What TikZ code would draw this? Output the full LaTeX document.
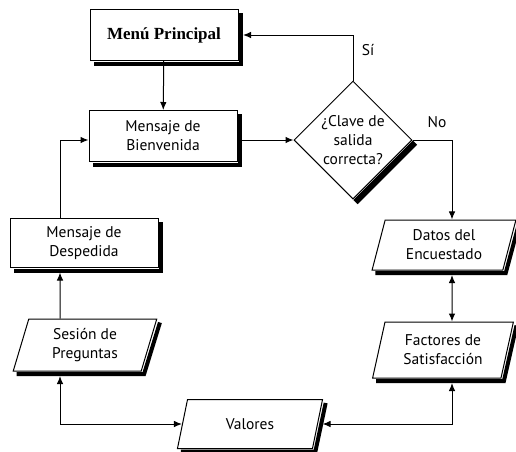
\documentclass[tikz,border=0pt]{standalone}
\usepackage{fontspec}
\setmainfont{PT Sans}
\newfontfamily\menufont{Liberation Serif}
\usetikzlibrary{shapes.geometric, arrows.meta}
\tikzstyle{proc} = [rectangle, minimum width=148pt, minimum height=51pt, align=center, draw=black, line width=1pt, fill=white]
\tikzstyle{io} = [trapezium, trapezium left angle=76, trapezium right angle=104, trapezium stretches=true, minimum width=144pt, minimum height=50pt, align=center, draw=black, line width=1pt, fill=white]
\tikzstyle{decision} = [diamond, aspect=1, minimum width=118pt, minimum height=118pt, inner sep=-3pt, align=center, draw=black, line width=1pt, fill=white]
\tikzstyle{shadowline} = [line width=4pt, black]
\tikzstyle{arrow} = [line width=1pt,->,>={Latex[length=8pt,width=6.5pt]}]
\tikzstyle{darrow} = [line width=1pt,<->,>={Latex[length=8pt,width=6.5pt]}]

\begin{document}
\begin{tikzpicture}[x=1pt,y=-1pt,font=\fontsize{15.5}{19}\selectfont]
\useasboundingbox (0,0) rectangle (516,451);
\node[proc,font=\menufont\bfseries\fontsize{17}{19}\selectfont] (menu) at (164,35) {Menú Principal};
\node[proc] (bien) at (163,136) {Mensaje de\\Bienvenida};
\node[decision] (dia) at (353,140) {¿Clave de\\salida\\correcta?};
\node[proc,minimum height=49pt] (desp) at (84,243) {Mensaje de\\Despedida};
\node[io] (datos) at (444,245) {Datos del\\Encuestado};
\node[io,minimum height=52pt] (sesion) at (85,345) {Sesión de\\Preguntas};
\node[io,minimum height=56pt,minimum width=141pt] (fact) at (443,350) {Factores de\\Satisfacción};
\node[io,minimum height=49pt,minimum width=146pt] (val) at (250,424) {Valores};

\foreach \n in {menu,bien,desp}
	\draw[shadowline] ([shift={(2.5pt,-4pt)}]\n.north east) |- ([shift={(4pt,-2.5pt)}]\n.south west);
\foreach \n in {datos,sesion,fact,val}
	\draw[shadowline] ([shift={(2.5pt,-4pt)}]\n.top right corner) -- ([shift={(2.5pt,-2.5pt)}]\n.bottom right corner) -- ([shift={(4pt,-2.5pt)}]\n.bottom left corner);
\draw[shadowline,line width=6pt] ([shift={(2.6pt,-2.6pt)}]dia.east) -- ([shift={(2.6pt,-2.6pt)}]dia.south);

\draw[arrow] (menu) -- (bien);
\draw[arrow] (bien.east |- dia.west) -- (dia.west);
\draw[arrow] (dia.north) |- node[pos=0.34,right=5pt]{Sí} ([xshift=4.5pt]menu.east);
\draw[arrow] (dia.east) -| node[pos=0.31,above=8pt]{No} ([xshift=8pt]datos.north);
\draw[darrow] ([xshift=8pt,yshift=-4.5pt]datos.south) -- ([xshift=9pt]fact.north);
\draw[darrow] ([xshift=9pt,yshift=-4.5pt]fact.south) |- ([xshift=4.5pt]val.east);
\draw[darrow] ([xshift=-25pt,yshift=-4.5pt]sesion.south) |- (val.west);
\draw[arrow] ([xshift=-25pt]sesion.north) -- ([xshift=-24pt,yshift=-4.5pt]desp.south);
\draw[arrow] ([xshift=-24pt]desp.north) |- (bien.west |- dia.west);
\end{tikzpicture}
\end{document}
